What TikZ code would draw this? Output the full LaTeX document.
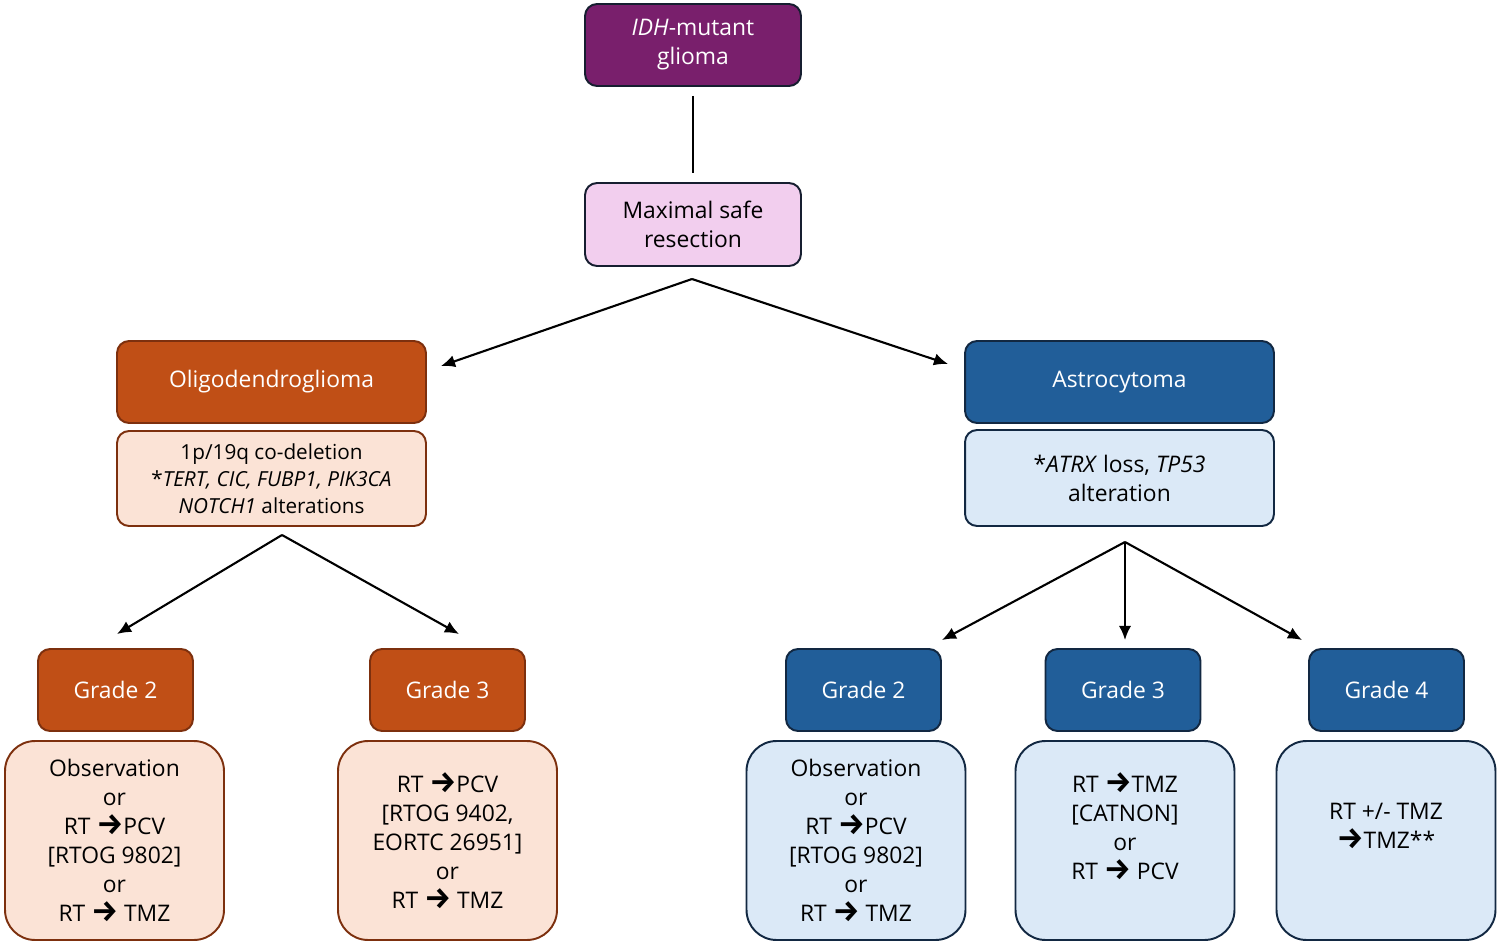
\documentclass[tikz,border=0pt]{standalone}
\usepackage{fontspec}
\setmainfont{Open Sans}
\newfontfamily\arrowfont{Fira Sans}
\usepackage{tikz}
\usetikzlibrary{arrows.meta}

\definecolor{idhfill}{RGB}{121,31,108}
\definecolor{msrfill}{RGB}{242,206,238}
\definecolor{oligofill}{RGB}{192,79,22}
\definecolor{oligoline}{RGB}{125,48,14}
\definecolor{oligolight}{RGB}{251,227,214}
\definecolor{astrofill}{RGB}{33,94,153}
\definecolor{astroline}{RGB}{18,40,66}
\definecolor{astrolight}{RGB}{219,233,247}
\definecolor{darkline}{RGB}{22,30,48}

\newcommand{\toarrow}{{\arrowfont\bfseries\fontsize{17}{16.5}\selectfont →}}

\begin{document}
\begin{tikzpicture}[x=0.02cm,y=-0.02cm,
  box/.style={rounded corners=0.24cm, line width=1.1pt, align=center, inner sep=0pt,
    font=\fontsize{13}{16.5}\selectfont},
  headbox/.style={box, minimum width=6.18cm, minimum height=1.64cm, text=white},
  gradebox/.style={box, minimum width=3.10cm, minimum height=1.64cm, text=white},
  treatbox/.style={box, rounded corners=0.6cm, minimum width=4.38cm, minimum height=3.98cm},
  link/.style={line width=1.2pt, -{Latex[length=8pt,width=7pt]}}]

\useasboundingbox (0,0) rectangle (1499,943);

% top of the tree
\node[box, minimum width=4.32cm, minimum height=1.64cm, fill=idhfill, draw=darkline, text=white]
  (idh) at (693,45) {\textit{IDH}-mutant\\glioma};
\node[box, minimum width=4.32cm, minimum height=1.66cm, fill=msrfill, draw=darkline]
  (msr) at (693,224.5) {Maximal safe\\resection};

\draw[line width=1.2pt, shorten <=0.18cm, shorten >=0.18cm] (idh) -- (msr);

% the two tumour types
\node[headbox, fill=oligofill, draw=oligoline] (oligo) at (271.5,382) {Oligodendroglioma};
\node[box, minimum width=6.18cm, minimum height=1.90cm, fill=oligolight, draw=oligoline,
  font=\fontsize{11.8}{15.3}\selectfont]
  (oligomol) at (271.5,478.5)
  {1p/19q co-deletion\\*\textit{TERT, CIC, FUBP1, PIK3CA}\\\textit{NOTCH1} alterations};

\node[headbox, fill=astrofill, draw=astroline] (astro) at (1119.5,382) {Astrocytoma};
\node[box, minimum width=6.18cm, minimum height=1.92cm, fill=astrolight, draw=astroline]
  (astromol) at (1119.5,478) {*\textit{ATRX} loss, \textit{TP53}\\alteration};

\coordinate (split) at (692,279);
\coordinate (toOligo) at (441,366);
\coordinate (toAstro) at (948,364);
\draw[link] (split) -- (toOligo);
\draw[link] (split) -- (toAstro);

% grades
\foreach \name/\x/\g in {og2/115.5/2, og3/447.5/3}
    \node[gradebox, fill=oligofill, draw=oligoline] (\name) at (\x,690) {Grade \g};

\foreach \name/\x/\g in {ag2/863.5/2, ag3/1123/3, ag4/1386.5/4}
    \node[gradebox, fill=astrofill, draw=astroline] (\name) at (\x,690) {Grade \g};

\coordinate (oligoSplit) at (282,535);
\coordinate (toOg2) at (117,634);
\coordinate (toOg3) at (459,634);
\foreach \i in {toOg2,toOg3}
    \draw[link] (oligoSplit) -- (\i);

\coordinate (astroSplit) at (1125,542);
\coordinate (toAg2) at (942,640);
\coordinate (toAg3) at (1125,640);
\coordinate (toAg4) at (1302,640);
\foreach \i in {toAg2,toAg3,toAg4}
    \draw[link] (astroSplit) -- (\i);

% treatments
\node[treatbox, fill=oligolight, draw=oligoline] (ot2) at (114.5,840.5)
  {Observation\\or\\RT \toarrow PCV\\{[RTOG 9802]}\\or\\RT \toarrow{} TMZ};
\node[treatbox, fill=oligolight, draw=oligoline] (ot3) at (447.5,840.5)
  {RT \toarrow PCV\\{[RTOG 9402,}\\EORTC 26951]\\or\\RT \toarrow{} TMZ};

\node[treatbox, fill=astrolight, draw=astroline] (at2) at (856,840.5)
  {Observation\\or\\RT \toarrow PCV\\{[RTOG 9802]}\\or\\RT \toarrow{} TMZ};
\node[treatbox, fill=astrolight, draw=astroline] (at3) at (1125,840.5)
  {RT \toarrow TMZ\\{[CATNON]}\\or\\RT \toarrow{} PCV\\\mbox{}};
\node[treatbox, fill=astrolight, draw=astroline] (at4) at (1386,840.5)
  {RT +/- TMZ\\\toarrow TMZ**\\\mbox{}};

\end{tikzpicture}
\end{document}
